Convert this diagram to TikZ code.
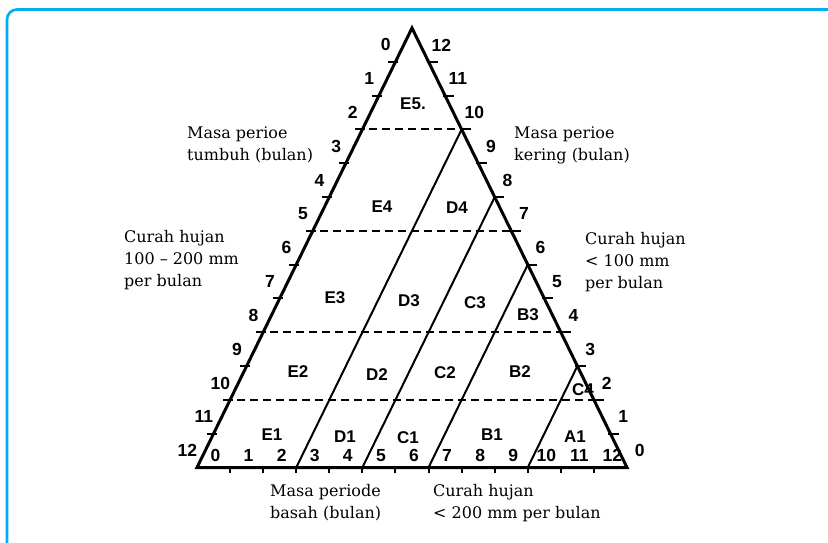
\documentclass[tikz,border=0pt]{standalone}
\usepackage{fontspec}
\setmainfont{DejaVu Serif}
\newfontfamily\numfont{Liberation Sans}
\usetikzlibrary{calc}
\definecolor{framecol}{RGB}{0,174,239}
\begin{document}
\begin{tikzpicture}[x=1pt,y=-1pt,
  side/.style={line width=3pt,line join=miter},
  tickmark/.style={line width=2pt},
  inner line/.style={line width=2pt},
  dash line/.style={line width=2pt,dash pattern=on 8pt off 5pt},
  num/.style={font=\numfont\bfseries\fontsize{17.5}{17.5}\selectfont,inner sep=0pt},
  region/.style={font=\numfont\bfseries\fontsize{17}{17}\selectfont,inner sep=0pt},
  note/.style={font=\fontsize{16}{22}\selectfont,align=left,inner sep=0pt,anchor=north west}]
\useasboundingbox (0,0) rectangle (828,542);
\fill[white] (0,0) rectangle (828,542);
% frame
\draw[framecol,line width=2.6pt,rounded corners=10pt] (7,548) -- (7,9.5) -- (834,9.5);
% triangle corners
\coordinate (A) at (412,28);
\coordinate (BL) at (197,467.5);
\coordinate (BR) at (627,467.5);
\foreach \j in {1,...,12}{
  \coordinate (L\j) at ($(A)!{\j/13}!(BL)$);
  \coordinate (R\j) at ($(A)!{\j/13}!(BR)$);
  \coordinate (B\j) at ($(BL)!{\j/13}!(BR)$);
}
% ticks
\foreach \j in {1,...,12}{
  \draw[tickmark] ($(L\j)+(-7,0)$) -- ($(L\j)+(3,0)$);
  \draw[tickmark] ($(R\j)+(-2,0)$) -- ($(R\j)+(9,0)$);
  \draw[tickmark] (B\j) -- ($(B\j)+(0,5)$);
}
% dashed levels
\foreach \j in {3,6,9,11}{
  \draw[dash line] ($(L\j)+(-6,0)$) -- ($(R\j)+(10,0)$);
}
% slanted boundaries
\foreach \k in {3,5,7,10}{
  \draw[inner line] (B\k) -- (R\k);
}
\draw[side] (BL) -- (A) -- (BR) -- cycle;
% scale numbers
\foreach \j in {0,...,12}{
  \pgfmathtruncatemacro\r{12-\j}
  \node[num] (ln\j) at ($(A)!{(\j+0.5)/13}!(BL)+(-18,0)$) {\j};
  \node[num] (rn\j) at ($(A)!{(\j+0.5)/13}!(BR)+(21,0)$) {\r};
  \node[num] (bn\j) at ($(BL)!{(\j+0.5)/13}!(BR)+(2,-12)$) {\j};
}
% regions
\node[region] (E5) at (413,104) {E5.};
\node[region] (E4) at (382,207) {E4};
\node[region] (D4) at (457,208) {D4};
\node[region] (E3) at (335,298) {E3};
\node[region] (D3) at (409,301) {D3};
\node[region] (C3) at (475,303) {C3};
\node[region] (B3) at (528,315) {B3};
\node[region] (E2) at (298,372) {E2};
\node[region] (D2) at (377,375) {D2};
\node[region] (C2) at (445,373) {C2};
\node[region] (B2) at (520,372) {B2};
\node[region] (C4) at (583,390) {C4};
\node[region] (E1) at (272,435) {E1};
\node[region] (D1) at (345,437) {D1};
\node[region] (C1) at (408,438) {C1};
\node[region] (B1) at (492,435) {B1};
\node[region] (A1) at (575,437) {A1};
% notes
\node[note] (n1) at (187,127) {Masa perioe\\tumbuh (bulan)};
\node[note] (n2) at (514,127) {Masa perioe\\kering (bulan)};
\node[note] (n3) at (124,230) {Curah hujan\\100 -- 200 mm\\per bulan};
\node[note] (n4) at (585,232) {Curah hujan\\< 100 mm\\per bulan};
\node[note] (n5) at (270,484) {Masa periode\\basah (bulan)};
\node[note] (n6) at (433,484) {Curah hujan\\< 200 mm per bulan};
\end{tikzpicture}
\end{document}
